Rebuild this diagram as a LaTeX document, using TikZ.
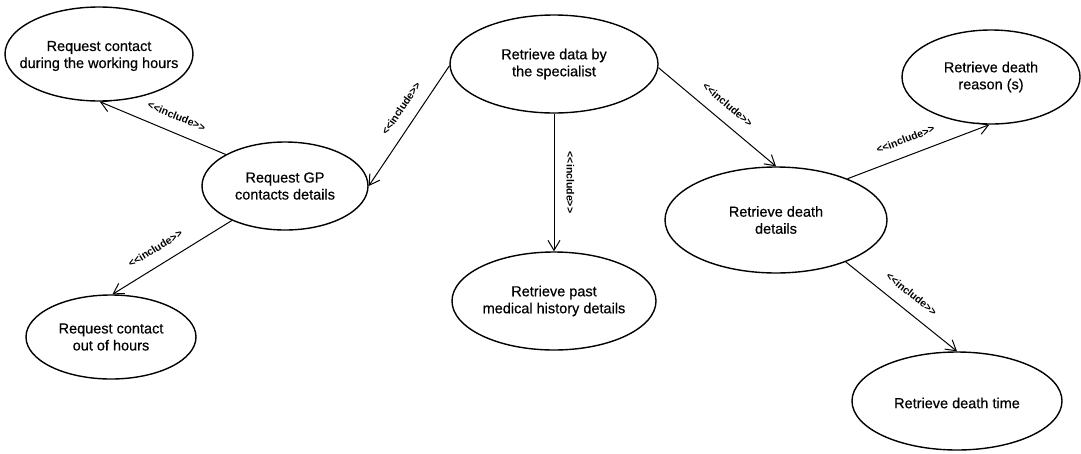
\documentclass[tikz,border=0pt]{standalone}
\usepackage{fontspec}
\setmainfont{Liberation Sans}[FakeBold=0.4]
\newfontfamily\lblfont{Liberation Sans Bold}[Ligatures=TeXOff]
\usetikzlibrary{shapes.geometric,arrows.meta}
\newcommand\inclabel{<<include>>}
\begin{document}
\begin{tikzpicture}[x=1pt,y=-1pt,
  usecase/.style 2 args={ellipse,draw,line width=1.4pt,inner sep=0pt,
    minimum width=#1,minimum height=#2},
  uctext/.style={align=center,inner sep=0pt,
    font=\fontsize{14.5}{17}\selectfont},
  inc/.style={line width=1pt,-{Straight Barb[length=10pt,width=12pt,line width=1pt]}},
  lbl/.style={sloped,above=12pt,inner sep=0pt,
    font=\lblfont\fontsize{10.5}{12}\selectfont}]
\fill[white] (0,0) rectangle (1081,453);
\useasboundingbox (0,0) rectangle (1081,453);

% use cases
\node[usecase={188}{94},label={[uctext,yshift=-2pt]center:{Request contact\\during the working hours}}] (wh) at (99,54) {};
\node[usecase={166}{88},label={[uctext]center:{Request GP\\contacts details}}] (gp) at (285,186) {};
\node[usecase={208}{98},label={[uctext]center:{Retrieve data by\\the specialist}}] (spec) at (554,64) {};
\node[usecase={204}{98},label={[uctext]center:{Retrieve past\\medical history details}}] (past) at (554,301) {};
\node[usecase={170}{84},label={[uctext]center:{Request contact\\out of hours}}] (ooh) at (111,337) {};
\node[usecase={222}{106},label={[uctext]center:{Retrieve death\\details}}] (dd) at (776,220) {};
\node[usecase={178}{94},label={[uctext]center:{Retrieve death\\reason (s)}}] (reason) at (991,77) {};
\node[usecase={210}{98},label={[uctext,yshift=-2pt]center:{Retrieve death time}}] (time) at (957,401) {};

% include relations
\draw[inc] (gp.152) -- node[lbl,pos=.44]{\inclabel} (wh.-89);
\draw[inc] (spec.181) -- node[lbl,pos=.43]{\inclabel} (gp.0);
\draw[inc] (spec.south) -- node[lbl,pos=.5]{\inclabel} (past.north);
\draw[inc] (spec.-2) -- node[lbl,pos=.5]{\inclabel} (dd.north);
\draw[inc] (gp.213) -- node[lbl,pos=.57]{\inclabel} (ooh.88);
\draw[inc] (dd.30) -- node[lbl,pos=.45]{\inclabel} (reason.268);
\draw[inc] (dd.-31) -- node[lbl,pos=.5]{\inclabel} (time.north);
\end{tikzpicture}
\end{document}
